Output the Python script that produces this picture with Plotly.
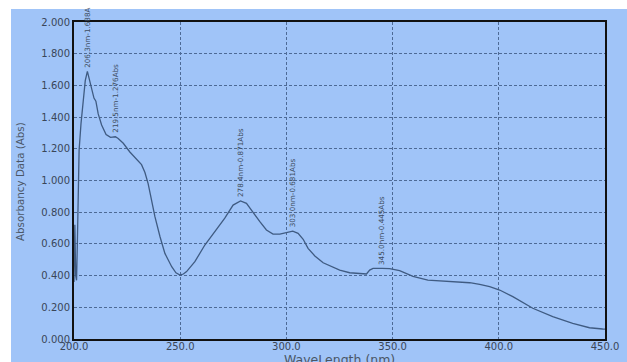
import plotly.graph_objects as go

# Absorbance spectrum (wavelength in nm, absorbance in Abs)
wavelength = [
    200.0, 200.4, 200.8, 201.2, 201.6, 202.0, 202.4, 203.3, 204.4, 205.3,
    206.3, 207.9, 209.4, 210.3, 211.4, 213.0, 215.1, 217.2, 219.5, 220.8,
    223.2, 226.3, 229.5, 231.8, 233.4, 234.9, 236.0, 238.1, 240.5, 242.8,
    246.0, 248.0, 249.9, 251.5, 253.0, 256.9, 261.6, 266.3, 271.0, 274.9,
    278.4, 281.2, 285.1, 287.5, 290.6, 293.7, 296.9, 300.0, 303.0, 305.5,
    307.9, 310.2, 313.4, 317.3, 321.2, 325.1, 329.8, 334.0, 337.7, 339.2,
    340.8, 345.0, 348.6, 353.3, 359.6, 366.6, 376.9, 386.3, 391.0, 395.7,
    400.4, 406.6, 416.0, 425.4, 434.8, 442.7, 448.9, 450.0,
]
absorbance = [
    0.36, 0.72, 0.40, 0.37, 0.62, 0.95, 1.19, 1.36, 1.54, 1.63,
    1.688, 1.59, 1.52, 1.50, 1.42, 1.35, 1.29, 1.272, 1.276, 1.265,
    1.235, 1.18, 1.13, 1.10, 1.05, 0.98, 0.91, 0.772, 0.645, 0.54,
    0.456, 0.418, 0.404, 0.41, 0.425, 0.488, 0.593, 0.677, 0.762, 0.845,
    0.871, 0.856, 0.782, 0.74, 0.688, 0.662, 0.662, 0.671, 0.681, 0.667,
    0.629, 0.572, 0.524, 0.481, 0.456, 0.435, 0.418, 0.412, 0.41, 0.435,
    0.446, 0.445, 0.444, 0.431, 0.395, 0.372, 0.362, 0.355, 0.345, 0.33,
    0.309, 0.267, 0.194, 0.141, 0.099, 0.071, 0.063, 0.062,
]

# Peak picks
peak_nm = [206.3, 219.5, 278.4, 303.0, 345.0]
peak_abs = [1.688, 1.276, 0.871, 0.681, 0.445]
peak_text = ["206.3nm-1.688A", "219.5nm-1.276Abs", "278.4nm-0.871Abs",
             "303.0nm-0.681Abs", "345.0nm-0.445Abs"]

x_ticks = [200, 250, 300, 350, 400, 450]
x_tick_text = ["200.0", "250.0", "300.0", "350.0", "400.0", "450.0"]
y_ticks = [0, 0.2, 0.4, 0.6, 0.8, 1.0, 1.2, 1.4, 1.6, 1.8, 2.0]
y_tick_text = ["0.000", "0.200", "0.400", "0.600", "0.800", "1.000",
               "1.200", "1.400", "1.600", "1.800", "2.000"]

x_title = "WaveLength.(nm)"
y_title = "Absorbancy Data (Abs)"

BG = "#a0c4f8"
GRID = "#4d6a96"
TEXT = "#3a4658"
TITLE = "#4a5666"

W, H = 627, 362
L, R, T, B = 74, 22, 22, 23
pw, ph = W - L - R, H - T - B


def px_x(v):
    return (v - L) / pw


def px_y(v):
    return (H - B - v) / ph


fig = go.Figure()
fig.add_trace(go.Scatter(
    x=wavelength, y=absorbance, mode="lines",
    line=dict(color="#3f5b82", width=1.3),
    hoverinfo="skip", showlegend=False,
))

for nm, ab, txt in zip(peak_nm, peak_abs, peak_text):
    fig.add_annotation(
        x=nm, y=ab, text=txt, showarrow=False, textangle=-90,
        xanchor="center", yanchor="bottom", yshift=2,
        font=dict(family="DejaVu Sans", size=7.2, color="#3e4c60"),
    )

# axis titles placed as paper annotations
fig.add_annotation(
    xref="paper", yref="paper", x=px_x(339), y=px_y(359.5),
    text=x_title, showarrow=False, xanchor="center", yanchor="middle",
    font=dict(family="DejaVu Sans", size=12.5, color=TITLE),
)
fig.add_annotation(
    xref="paper", yref="paper", x=px_x(20), y=px_y(182),
    text=y_title, showarrow=False, textangle=-90,
    xanchor="center", yanchor="middle",
    font=dict(family="DejaVu Sans", size=10.3, color=TITLE),
)

# white strips along the top and left edges of the page
fig.add_shape(type="rect", xref="paper", yref="paper",
              x0=px_x(0), x1=px_x(W), y0=px_y(9), y1=px_y(0),
              fillcolor="white", line=dict(width=0), layer="below")
fig.add_shape(type="rect", xref="paper", yref="paper",
              x0=px_x(0), x1=px_x(11), y0=px_y(H), y1=px_y(0),
              fillcolor="white", line=dict(width=0), layer="below")

axis_common = dict(
    showline=True, mirror=True, linecolor="#111111", linewidth=2,
    showgrid=True, gridcolor=GRID, gridwidth=1, griddash="3px,2px",
    zeroline=False, ticks="", automargin=False,
    tickfont=dict(family="DejaVu Sans", size=10, color=TEXT),
)

fig.update_xaxes(range=[200, 450], tickvals=x_ticks, ticktext=x_tick_text,
                 ticklabelstandoff=-3, **axis_common)
fig.update_yaxes(range=[0, 2.0], tickvals=y_ticks, ticktext=y_tick_text,
                 **axis_common)

fig.update_layout(
    width=W, height=H,
    margin=dict(l=L, r=R, t=T, b=B, autoexpand=False),
    paper_bgcolor=BG, plot_bgcolor=BG,
    showlegend=False,
)

fig.write_html("out.html")
